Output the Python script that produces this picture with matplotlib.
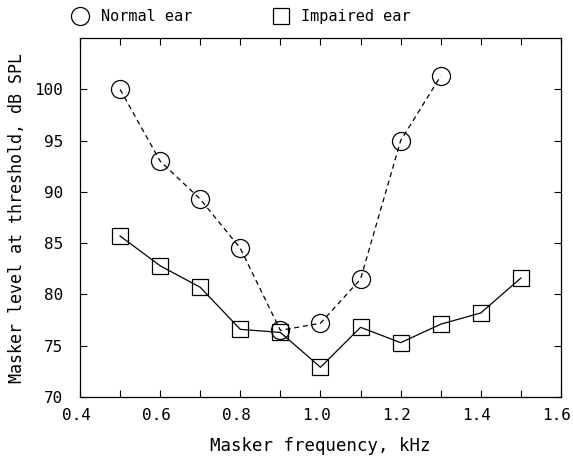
import matplotlib
matplotlib.use("Agg")
import matplotlib.pyplot as plt
import matplotlib.transforms as mtransforms
from matplotlib.ticker import MultipleLocator

# masking thresholds vs masker frequency
freq_normal = [0.5, 0.6, 0.7, 0.8, 0.9, 1.0, 1.1, 1.2, 1.3]
level_normal = [100.0, 93.0, 89.3, 84.5, 76.5, 77.2, 81.5, 95.0, 101.3]

freq_impaired = [0.5, 0.6, 0.7, 0.8, 0.9, 1.0, 1.1, 1.2, 1.3, 1.4, 1.5]
level_impaired = [85.7, 82.8, 80.7, 76.6, 76.3, 72.9, 76.8, 75.3, 77.1, 78.2, 81.6]

xticks = [0.4, 0.6, 0.8, 1.0, 1.2, 1.4, 1.6]
yticks = [70, 75, 80, 85, 90, 95, 100]

plt.rcParams["font.family"] = "DejaVu Sans Mono"
plt.rcParams["font.size"] = 11.5

fig = plt.figure(figsize=(5.73, 4.59), dpi=100)
ax = fig.add_axes([0.1396, 0.135, 0.8394, 0.782])

ax.plot(freq_normal, level_normal, color="black", lw=0.9, ls=(0, (4, 3)),
        marker="o", ms=13, mfc="none", mec="black", mew=0.9,
        label="Normal ear")
ax.plot(freq_impaired, level_impaired, color="black", lw=0.9, ls="-",
        marker="s", ms=12, mfc="none", mec="black", mew=0.9,
        label="Impaired ear")

ax.set_xlim(0.4, 1.6)
ax.set_ylim(70, 105)
ax.set_xticks(xticks)
ax.set_xticklabels([f"{t:.1f}" for t in xticks])
ax.xaxis.set_minor_locator(MultipleLocator(0.1))
ax.set_yticks(yticks)
ax.set_yticklabels([str(t) for t in yticks])

ax.tick_params(which="both", direction="in", top=True, right=True,
               length=5, width=0.8)
ax.tick_params(axis="x", which="both", pad=8)
ax.tick_params(axis="y", which="both", pad=12)
for s in ax.spines.values():
    s.set_linewidth(0.9)

# x tick labels sit slightly left of their ticks
shift = mtransforms.ScaledTranslation(-4 / 100, 0, fig.dpi_scale_trans)
for lbl in ax.get_xticklabels():
    lbl.set_transform(lbl.get_transform() + shift)

ax.set_xlabel("Masker frequency, kHz", fontsize=12.5, labelpad=10)
ax.set_ylabel("Masker level at threshold, dB SPL", fontsize=12, labelpad=6)

leg = fig.legend(loc="upper left", bbox_to_anchor=(0.1, 1.01), ncol=2,
                 frameon=False, handlelength=1.2, handletextpad=0.75,
                 columnspacing=5.2, numpoints=1, fontsize=11)
for h in leg.legend_handles:
    h.set_linestyle("none")

fig.savefig("out.png", dpi=100)
